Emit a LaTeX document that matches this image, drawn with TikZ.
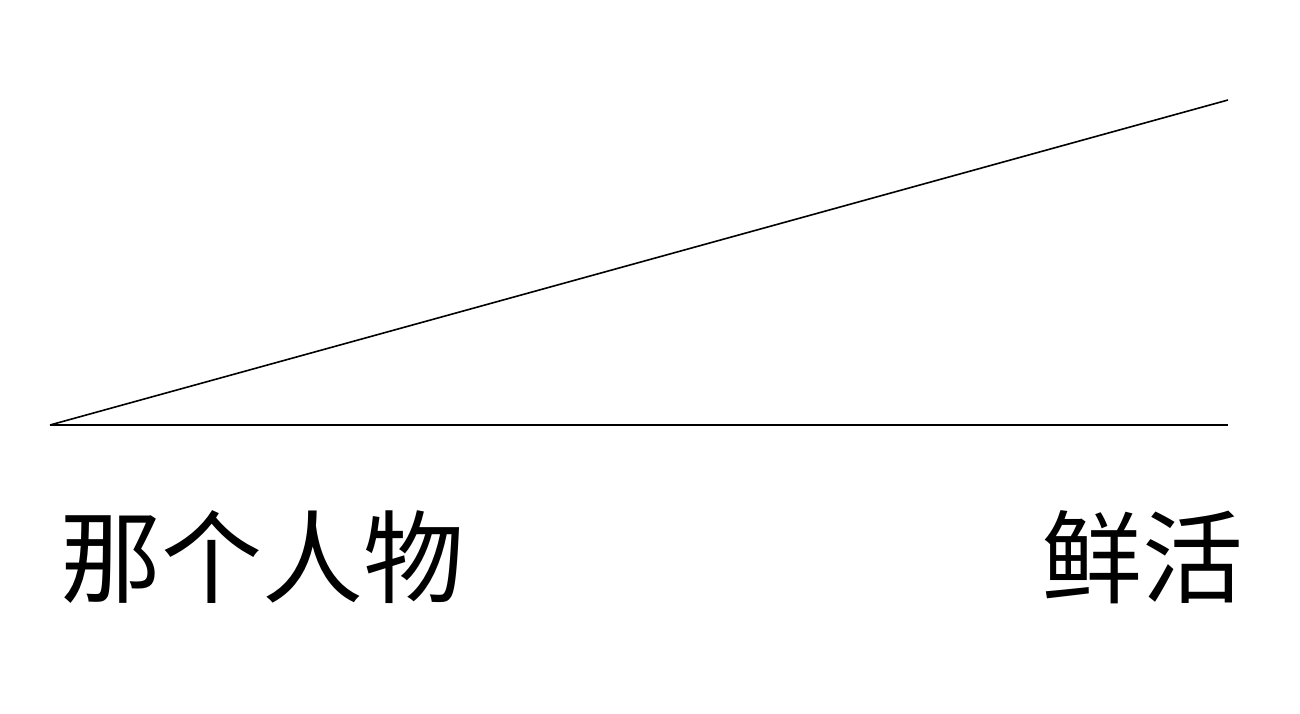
\documentclass[tikz,border=0pt]{standalone}
\usepackage{fontspec}
\newfontfamily\cjk{Noto Sans CJK SC}
\begin{document}
\begin{tikzpicture}[x=1pt,y=-1pt,
  ray/.style={line width=1.6pt,black},
  lbl/.style={font=\cjk\fontsize{101}{115}\selectfont,inner sep=0pt,anchor=center}]
\useasboundingbox (0,0) rectangle (1300,714);
\coordinate (o) at (50,425);
\coordinate (top) at (1228,100);
\coordinate (base) at (1228,425);
\draw[ray] (o) -- (top);
\draw[ray] (o) -- (base);
\node[lbl] (left) at (262,557) {那个人物};
\node[lbl] (right) at (1142,557) {鲜活};
\end{tikzpicture}
\end{document}
